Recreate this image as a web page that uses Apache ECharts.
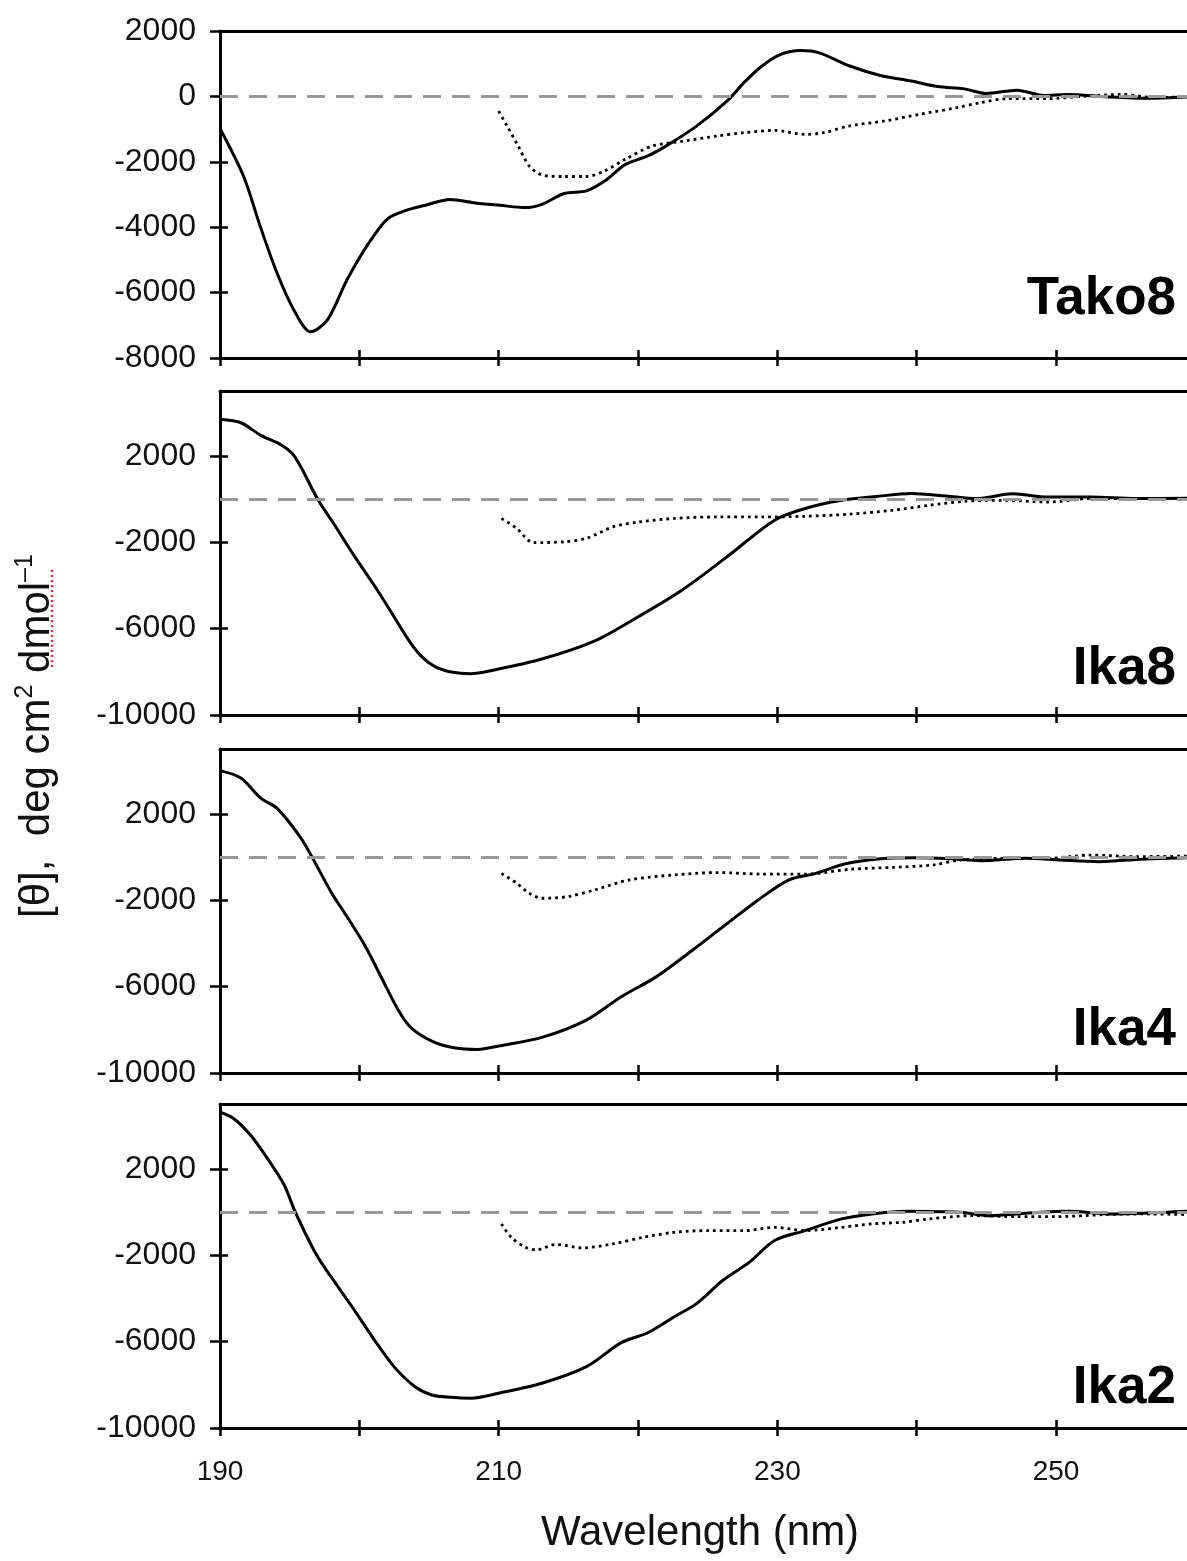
<!DOCTYPE html>
<html>
<head>
<meta charset="utf-8">
<script src="https://cdn.jsdelivr.net/npm/echarts@6/dist/echarts.min.js"></script>
<style>
html,body{margin:0;padding:0;background:#fff;}
#chart{width:1187px;height:1561px;}
</style>
</head>
<body>
<div id="chart"></div>
<script>
// ---- tick values / labels ----
const wavelengthTicks = [190, 200, 210, 220, 230, 240, 250];
const wavelengthLabels = [190, 210, 230, 250];
const takoYTicks = [-8000, -6000, -4000, -2000, 0, 2000];
const ikaYTicks = [-10000, -6000, -2000, 2000];
const panelNames = ['Tako8', 'Ika8', 'Ika4', 'Ika2'];

// ---- data: [wavelength nm, mean residue ellipticity] ----
const tako8Solid = [[190,-980],[191.7,-2450],[192.9,-3990],[194.1,-5410],[195.3,-6530],[196.5,-7200],[197.7,-6840],[199.1,-5620],[200.5,-4600],[202.0,-3750],[203.4,-3480],[204.8,-3320],[206.5,-3150],[208.2,-3250],[210.1,-3330],[211.9,-3400],[213.1,-3300],[214.7,-2970],[216.3,-2890],[217.6,-2590],[219.1,-2080],[220.7,-1820],[222.0,-1520],[224.2,-910],[226.4,-140],[227.6,420],[228.9,930],[230.2,1280],[231.7,1400],[233.0,1330],[235.2,930],[237.4,640],[239.6,470],[241.5,300],[243.4,230],[245.0,90],[247.2,190],[249.1,30],[250.9,60],[253.5,-10],[256.6,-60],[259.4,-20]];
const tako8Dotted = [[210,-450],[210.6,-900],[211.4,-1520],[212.2,-2130],[213.1,-2400],[214.7,-2450],[216.3,-2450],[217.6,-2280],[219.1,-1920],[221.0,-1520],[223.2,-1370],[225.7,-1210],[227.6,-1110],[229.8,-1040],[232.0,-1160],[233.3,-1110],[235.2,-900],[237.7,-750],[240.2,-550],[242.8,-350],[244.6,-190],[246.5,-70],[249.4,-70],[251.9,0],[254.7,60],[257.2,-40],[259.4,0]];

const ika8Solid = [[190,3690],[191.5,3530],[192.9,2960],[194.4,2500],[195.2,2100],[195.8,1490],[197.0,0],[198.2,-1180],[199.6,-2600],[201.1,-4030],[202.5,-5460],[203.5,-6500],[204.4,-7250],[205.4,-7750],[206.6,-8010],[208.0,-8090],[209.5,-7940],[213.1,-7410],[216.9,-6570],[220.1,-5420],[223.2,-4200],[226.4,-2670],[229.8,-980],[232.0,-440],[234.6,-60],[237.1,120],[239.6,250],[242.1,140],[244.3,20],[246.9,240],[249.4,90],[252.5,90],[255.7,20],[259.4,40]];
const ika8Dotted = [[210.2,-900],[211.3,-1360],[212.5,-2020],[214.7,-1980],[216.3,-1820],[218.2,-1290],[220.1,-1060],[222.6,-900],[225.7,-830],[228.9,-830],[232.0,-800],[235.2,-700],[238.3,-520],[240.9,-290],[243.4,-110],[246.2,-60],[249.4,-140],[252.5,20],[255.7,20],[259.4,20]];

const ika4Solid = [[190,4000],[191.5,3660],[192.9,2740],[194.1,2250],[195.8,890],[196.6,0],[198.0,-1650],[199.2,-2850],[200.4,-4100],[201.6,-5600],[202.8,-7100],[203.7,-7900],[205.2,-8520],[206.8,-8830],[208.5,-8910],[210.0,-8750],[213.1,-8350],[216.3,-7550],[218.8,-6470],[221.3,-5550],[223.9,-4320],[226.4,-3080],[228.6,-2000],[230.8,-1070],[232.7,-770],[234.9,-310],[237.4,-80],[239.9,-30],[242.4,-80],[244.6,-170],[247.8,-60],[250.3,-140],[253.1,-215],[256.0,-110],[259.4,-30]];
const ika4Dotted = [[210.2,-760],[211.3,-1220],[212.2,-1680],[213.1,-1910],[215.0,-1830],[216.9,-1520],[219.4,-1060],[222.6,-830],[225.7,-720],[228.9,-790],[232.0,-790],[235.2,-570],[238.3,-480],[241.2,-370],[243.1,-140],[246.2,-60],[249.4,-60],[252.5,90],[255.7,20],[259.4,40]];

const ika2Solid = [[190,4620],[191.0,4320],[192.2,3550],[193.4,2480],[194.6,1260],[195.4,0],[196.9,-1960],[198.0,-3030],[199.5,-4410],[201.1,-5940],[202.5,-7170],[204.0,-8090],[205.2,-8470],[206.6,-8580],[208.0,-8620],[210.0,-8390],[213.1,-7930],[216.3,-7160],[218.8,-6050],[220.7,-5590],[222.6,-4850],[224.2,-4240],[226.1,-3160],[228.0,-2320],[229.8,-1320],[232.0,-860],[234.6,-320],[236.8,-90],[239.3,30],[243.1,-15],[245.3,-170],[247.8,-60],[250.9,30],[254.1,-90],[259.4,30]];
const ika2Dotted = [[210.2,-550],[210.9,-1170],[211.9,-1630],[212.7,-1750],[214.1,-1505],[216.0,-1660],[218.2,-1475],[220.4,-1170],[222.6,-940],[225.1,-860],[227.6,-860],[229.8,-710],[232.0,-860],[234.6,-710],[236.8,-550],[239.0,-475],[240.9,-320],[244.0,-170],[247.2,-215],[250.0,-215],[253.5,-120],[256.3,-90],[259.4,-120]];

// ---- layout ----
const FONT = '"Liberation Sans", Arial, Helvetica, sans-serif';
const panels = [
  {solid: tako8Solid, dotted: tako8Dotted, yMin: -8000, yMax: 2000, yTicks: takoYTicks, top: 31, height: 327, labelY: 299},
  {solid: ika8Solid, dotted: ika8Dotted, yMin: -10000, yMax: 5000, yTicks: ikaYTicks, top: 391, height: 324, labelY: 669},
  {solid: ika4Solid, dotted: ika4Dotted, yMin: -10000, yMax: 5000, yTicks: ikaYTicks, top: 749, height: 324, labelY: 1030},
  {solid: ika2Solid, dotted: ika2Dotted, yMin: -10000, yMax: 5000, yTicks: ikaYTicks, top: 1104, height: 324, labelY: 1388}
];
const X_MIN = 190, X_MAX = 259.4;
const plain = v => String(v);

const grid = [], xAxis = [], yAxis = [], series = [], graphic = [];
panels.forEach((p, i) => {
  grid.push({left: 220, right: 0, top: p.top, height: p.height, containLabel: false});
  const base = {type: 'value', gridIndex: i, min: X_MIN, max: X_MAX, splitLine: {show: false}};
  xAxis.push(Object.assign({}, base, {
    position: 'bottom',
    axisLine: {show: true, onZero: false, lineStyle: {color: '#000', width: 3}},
    axisTick: {show: true, inside: false, length: 8, customValues: wavelengthTicks, lineStyle: {color: '#000', width: 2.5}},
    axisLabel: {show: i === panels.length - 1, customValues: wavelengthLabels, formatter: plain, color: '#111', fontFamily: FONT, fontSize: 28, margin: 30}
  }));
  xAxis.push(Object.assign({}, base, {
    position: 'bottom',
    axisLine: {show: false, onZero: false},
    axisTick: {show: true, inside: true, length: 8, customValues: wavelengthTicks, lineStyle: {color: '#000', width: 2.5}},
    axisLabel: {show: false}
  }));
  xAxis.push(Object.assign({}, base, {
    position: 'top',
    axisLine: {show: true, onZero: false, lineStyle: {color: '#000', width: 3}},
    axisTick: {show: false},
    axisLabel: {show: false}
  }));
  const ybase = {type: 'value', gridIndex: i, min: p.yMin, max: p.yMax, position: 'left', splitLine: {show: false}};
  yAxis.push(Object.assign({}, ybase, {
    axisLine: {show: true, onZero: false, lineStyle: {color: '#000', width: 3}},
    axisTick: {show: true, inside: false, length: 10, customValues: p.yTicks, lineStyle: {color: '#000', width: 2.5}},
    axisLabel: {show: true, customValues: p.yTicks, formatter: plain, color: '#111', fontFamily: FONT, fontSize: 32, margin: 24}
  }));
  yAxis.push(Object.assign({}, ybase, {
    axisLine: {show: false, onZero: false},
    axisTick: {show: true, inside: true, length: 8, customValues: p.yTicks, lineStyle: {color: '#000', width: 2.5}},
    axisLabel: {show: false}
  }));
  series.push({
    type: 'line', name: panelNames[i] + ' solid', xAxisIndex: 3 * i, yAxisIndex: 2 * i,
    data: p.solid, smooth: 0.3, showSymbol: false, symbol: 'none',
    lineStyle: {color: '#000', width: 3}, z: 3,
    markLine: {
      silent: true, symbol: 'none', label: {show: false},
      lineStyle: {color: '#999', width: 3, type: [18, 11]},
      data: [{yAxis: 0}]
    }
  });
  series.push({
    type: 'line', name: panelNames[i] + ' dotted', xAxisIndex: 3 * i, yAxisIndex: 2 * i,
    data: p.dotted, smooth: 0.3, showSymbol: false, symbol: 'none',
    lineStyle: {color: '#000', width: 2.8, type: [2.8, 4]}, z: 3
  });
  graphic.push({
    type: 'text', x: 1176, y: p.labelY,
    style: {text: panelNames[i], fill: '#000', fontFamily: FONT, fontWeight: 'bold', fontSize: 53, align: 'right', verticalAlign: 'middle'}
  });
});

graphic.push({
  type: 'text', x: 700, y: 1533,
  style: {text: 'Wavelength (nm)', fill: '#111', fontFamily: FONT, fontSize: 42, align: 'center', verticalAlign: 'middle'}
});
graphic.push({
  type: 'text', x: 37, y: 736, rotation: Math.PI / 2,
  style: {
    text: '[θ],  deg cm{sup|2} dmol{sup|–1}', fill: '#111', fontFamily: FONT, fontSize: 42,
    align: 'center', verticalAlign: 'middle', lineHeight: 48,
    rich: {sup: {fontSize: 25, fontFamily: FONT, fill: '#111', verticalAlign: 'top', lineHeight: 48}}
  }
});
graphic.push({
  type: 'line', shape: {x1: 52, y1: 570, x2: 52, y2: 668},
  style: {stroke: '#e8303a', lineWidth: 2.5, lineDash: [2, 3]}
});

const chart = echarts.init(document.getElementById('chart'), null, {renderer: 'canvas'});
chart.setOption({
  animation: false,
  backgroundColor: '#fff',
  grid, xAxis, yAxis, series, graphic
});
</script>
</body>
</html>
